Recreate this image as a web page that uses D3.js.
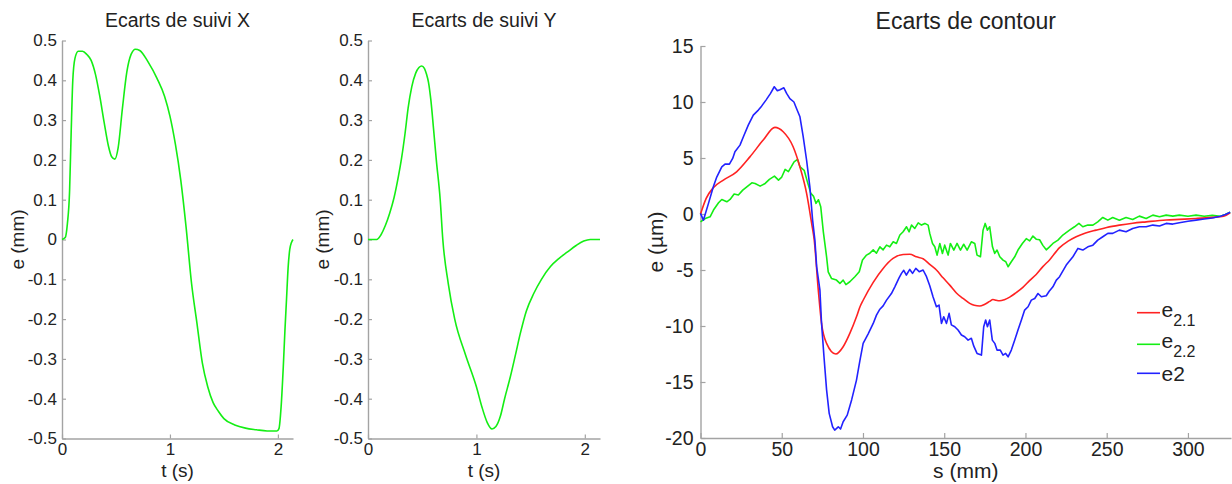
<!DOCTYPE html>
<html><head><meta charset="utf-8">
<script src="https://cdn.jsdelivr.net/npm/d3@7"></script>
<style>
html,body{margin:0;padding:0;background:#fff;}
svg{display:block;font-family:"Liberation Sans",Arial,sans-serif;}
</style></head>
<body><svg id="chart" width="1232" height="484"></svg>
<script>
// ---------- DATA ----------
const titles = ["Ecarts de suivi X", "Ecarts de suivi Y", "Ecarts de contour"];
const xLabels = ["t (s)", "t (s)", "s (mm)"];
const yLabels = ["e (mm)", "e (mm)", "e (µm)"];

const suiviYTicks = [0.5, 0.4, 0.3, 0.2, 0.1, 0, -0.1, -0.2, -0.3, -0.4, -0.5];
const suiviXTicks = [0, 1, 2];
const contourYTicks = [15, 10, 5, 0, -5, -10, -15, -20];
const contourXTicks = [0, 50, 100, 150, 200, 250, 300];

// Ecarts de suivi X  (t in s, e in mm)
const tX = [0, 0.03, 0.05, 0.07, 0.085, 0.1, 0.12, 0.15, 0.19, 0.23, 0.27, 0.31, 0.35, 0.39, 0.43, 0.46, 0.49, 0.52, 0.56, 0.6, 0.64, 0.68, 0.72, 0.8, 0.88, 0.95, 1.0, 1.05, 1.1, 1.15, 1.2, 1.25, 1.3, 1.35, 1.4, 1.45, 1.5, 1.6, 1.7, 1.8, 1.9, 1.99, 2.01, 2.03, 2.05, 2.065, 2.08, 2.095, 2.11, 2.125, 2.14];
const eX = [0, 0.005, 0.04, 0.12, 0.27, 0.40, 0.455, 0.473, 0.473, 0.465, 0.45, 0.415, 0.36, 0.295, 0.235, 0.208, 0.202, 0.23, 0.33, 0.42, 0.465, 0.478, 0.475, 0.445, 0.405, 0.36, 0.31, 0.24, 0.15, 0.03, -0.11, -0.21, -0.31, -0.37, -0.41, -0.432, -0.45, -0.466, -0.474, -0.478, -0.481, -0.481, -0.475, -0.42, -0.32, -0.23, -0.15, -0.07, -0.025, -0.008, 0];

// Ecarts de suivi Y
const tY = [0, 0.08, 0.12, 0.16, 0.2, 0.24, 0.28, 0.31, 0.342, 0.37, 0.404, 0.44, 0.47, 0.496, 0.52, 0.54, 0.558, 0.58, 0.604, 0.63, 0.666, 0.69, 0.74, 0.8, 0.9, 1.0, 1.05, 1.1, 1.144, 1.18, 1.22, 1.26, 1.313, 1.36, 1.405, 1.46, 1.53, 1.6, 1.683, 1.76, 1.837, 1.92, 1.99, 2.05, 2.14];
const eY = [0, 0, 0.012, 0.035, 0.066, 0.105, 0.158, 0.205, 0.267, 0.33, 0.384, 0.418, 0.432, 0.436, 0.43, 0.415, 0.395, 0.35, 0.28, 0.2, 0.1, 0, -0.11, -0.2, -0.29, -0.37, -0.42, -0.46, -0.476, -0.47, -0.445, -0.40, -0.345, -0.29, -0.236, -0.18, -0.135, -0.1, -0.068, -0.048, -0.032, -0.015, -0.004, 0, 0];

// Ecarts de contour (s in mm, e in µm)
const legendNames = [["e", "2.1"], ["e", "2.2"], ["e2", ""]];
const s21 = [0, 3.5, 7.9, 14.1, 22.2, 30.4, 38.6, 45.8, 50.9, 57, 61.2, 65.3, 68.4, 70, 72.5, 74.5, 77.6, 83.3, 87.8, 91.9, 96, 98.1, 100.1, 106.3, 112.4, 118.5, 124.7, 128.8, 132.9, 137, 141.1, 145.2, 149.3, 153.4, 157.5, 161.6, 165.7, 168.5, 171.8, 175, 178, 180, 182, 184.1, 187, 190.3, 194, 198.4, 202.5, 206.6, 210.7, 214.8, 221, 226, 231.2, 237, 243.5, 250, 257.8, 266, 274.3, 286.6, 294.7, 305, 315, 322, 326];
const e21 = [0, 1.4, 2.35, 3.03, 3.77, 5.1, 6.6, 7.73, 7.34, 6.0, 4.2, 1.84, -0.84, -2.33, -6.8, -9.77, -11.55, -12.5, -11.85, -10.66, -9.18, -8.3, -7.7, -6.1, -4.86, -3.97, -3.62, -3.6, -3.82, -4.0, -4.5, -5.0, -5.7, -6.35, -7.05, -7.54, -7.98, -8.15, -8.22, -8.05, -7.8, -7.63, -7.7, -7.75, -7.65, -7.42, -7.05, -6.55, -5.95, -5.4, -4.7, -4.1, -3.0, -2.45, -2.03, -1.7, -1.44, -1.2, -0.99, -0.82, -0.7, -0.54, -0.48, -0.4, -0.3, -0.2, 0.1];

const s22 = [0, 2.9, 5.9, 8, 11.1, 13.1, 16.2, 18.2, 20.7, 23.3, 26, 28.5, 31.6, 33.6, 36.7, 39.8, 42.4, 45.5, 48, 50, 52.1, 54.1, 55.8, 57.6, 59.7, 61.3, 63.8, 65.8, 67.9, 69.5, 71.1, 72.6, 74, 75.6, 77.6, 78.6, 80.6, 83.7, 85.8, 87.8, 89.5, 91.9, 95, 97.7, 99.7, 102.2, 104.2, 106.3, 108.3, 110.4, 112.4, 114.5, 116.5, 118.6, 120.6, 122.7, 124.7, 126.8, 128.4, 129.9, 131.9, 134, 136, 138.1, 140.1, 141.1, 142.8, 144.2, 145.6, 147.3, 148.9, 150.3, 152.4, 153.8, 155.9, 157.9, 160, 162, 164.1, 166.7, 168.8, 170.2, 172.3, 173.9, 175.2, 176.6, 178, 179.7, 181.1, 182.5, 184.2, 186.2, 187.9, 189.3, 191.3, 193.4, 195.4, 198.1, 200.5, 202.6, 204.6, 206.6, 208.7, 210.7, 212.8, 214.8, 216.9, 220, 223, 227.1, 230.2, 232.9, 235.3, 238.4, 241.5, 244.5, 247.6, 250.7, 253.7, 257.8, 261.9, 266, 270.1, 274.3, 278.4, 282.5, 286.6, 290.7, 294.7, 300, 305, 310, 315, 320, 323, 326];
const e22 = [-0.7, -0.4, -0.25, 0.35, 1.0, 1.3, 1.09, 1.3, 1.78, 1.7, 2.13, 2.43, 2.79, 2.73, 2.49, 2.73, 3.09, 3.38, 3.03, 3.3, 3.98, 3.79, 4.2, 4.66, 4.87, 4.2, 3.9, 2.87, 1.84, 1.6, 0.95, 1.27, 0.65, -1.6, -3.82, -5.16, -5.75, -5.9, -6.2, -5.9, -6.3, -6.05, -5.6, -5.16, -4.1, -3.67, -3.5, -3.2, -3.5, -2.93, -3.2, -2.78, -2.93, -2.48, -2.63, -1.88, -1.59, -1.14, -1.59, -0.99, -1.29, -0.79, -0.99, -0.84, -0.99, -1.73, -2.63, -2.93, -3.67, -2.63, -3.52, -2.78, -3.67, -2.63, -3.22, -2.63, -3.22, -2.7, -3.22, -2.48, -2.63, -3.67, -3.82, -1.44, -0.84, -1.44, -1.14, -2.93, -3.52, -3.22, -3.82, -4.12, -4.26, -4.71, -4.26, -3.82, -3.22, -2.63, -2.2, -2.4, -1.97, -2.25, -2.3, -2.8, -3.2, -2.93, -2.63, -2.33, -1.88, -1.44, -1.14, -0.84, -1.14, -0.99, -0.99, -0.7, -0.31, -0.55, -0.31, -0.55, -0.31, -0.49, -0.19, -0.4, -0.1, -0.25, -0.1, -0.19, -0.1, -0.2, -0.1, -0.2, -0.12, -0.2, -0.05, 0.15];

const s2 = [0, 1.8, 4.9, 7.9, 10, 13.1, 15.1, 17.8, 19.8, 21.2, 24.3, 26.4, 29.4, 32.5, 35.6, 37.6, 40.3, 43.1, 45.4, 47.3, 48.9, 51.3, 53, 55, 57.5, 59.1, 61.2, 63.2, 65.3, 67.3, 69, 70.4, 71.5, 73.5, 74.5, 76, 77.6, 79.2, 81.3, 82.6, 84.8, 86.2, 87.8, 90.3, 93, 96, 98.1, 100.1, 103.2, 106.3, 108.3, 110.4, 112.4, 114.5, 117.5, 119.6, 122.2, 123.7, 125.1, 126.7, 128.8, 130.5, 132.5, 134.6, 137, 139.1, 141.1, 143.1, 145.2, 146.8, 148.3, 149.7, 151.4, 153, 154.4, 156.5, 158.5, 160.6, 162.6, 164.7, 166.7, 168.2, 170.2, 172.9, 174.3, 175.5, 176.6, 178, 179.6, 181.1, 182.5, 184.5, 186.2, 187.8, 189.3, 191.3, 193.4, 195.4, 197.5, 199.5, 201.6, 203.6, 205.7, 207.7, 209.8, 212.8, 214.6, 216.9, 219, 221, 225.1, 229.2, 232.3, 235.3, 238.4, 241.5, 244.5, 247.6, 250.7, 253.7, 257.8, 261.9, 266, 270.1, 274.3, 278.4, 282.5, 286.6, 290.7, 294.7, 300, 305, 310, 315, 320, 323, 326];
const e2 = [0.05, -0.55, 0.95, 2.43, 3.3, 4.2, 4.45, 4.45, 4.96, 5.55, 6.15, 6.9, 7.94, 8.83, 9.28, 9.63, 10.17, 10.77, 11.36, 11.0, 11.1, 11.27, 10.77, 10.3, 10.0, 9.42, 8.68, 6.9, 4.8, 2.43, -0.55, -2.33, -4.71, -6.8, -9.77, -12.75, -15.7, -17.8, -19.0, -19.3, -19.0, -19.2, -18.55, -17.96, -16.6, -14.83, -13.1, -11.55, -10.7, -9.77, -9.03, -8.5, -8.2, -7.69, -7.1, -6.5, -5.7, -5.3, -5.03, -5.45, -4.95, -5.3, -4.86, -5.15, -5.0, -5.6, -6.4, -7.39, -8.28, -8.13, -9.77, -9.18, -9.77, -8.87, -9.9, -10.07, -10.36, -10.8, -10.96, -11.26, -11.1, -11.8, -12.45, -12.6, -10.07, -9.47, -10.07, -9.47, -11.26, -11.55, -12.15, -12.15, -12.6, -12.45, -12.75, -12.15, -11.26, -10.36, -9.47, -8.58, -8.28, -7.69, -7.54, -7.1, -7.39, -7.3, -6.9, -6.5, -5.9, -5.6, -4.56, -3.82, -3.07, -3.22, -2.93, -2.78, -2.33, -2.03, -1.73, -1.73, -1.44, -1.59, -1.29, -1.14, -1.14, -0.99, -1.07, -0.84, -0.9, -0.78, -0.65, -0.55, -0.45, -0.35, -0.2, -0.05, 0.15];

// ---------- DRAW ----------
const svg = d3.select("#chart");
const axisColor = "#a3a3a3";
const textColor = "#222";
const green = "#14ee14", red = "#ff2222", blue = "#2222ff";

function zip(xs, ys) { return xs.map((x, i) => [x, ys[i]]); }

function panel(cfg) {
  const x = d3.scaleLinear().domain(cfg.xDomain).range(cfg.xRange);
  const y = d3.scaleLinear().domain(cfg.yDomain).range(cfg.yRange);
  const g = svg.append("g");
  const fmt = d => String(d);

  const xAxis = g.append("g").attr("transform", `translate(0,${cfg.yRange[0]})`)
    .call(d3.axisBottom(x).tickValues(cfg.xTicks).tickFormat(fmt).tickSizeInner(-cfg.tick).tickSizeOuter(0).tickPadding(cfg.xPad));
  const yAxis = g.append("g").attr("transform", `translate(${cfg.xRange[0]},0)`)
    .call(d3.axisLeft(y).tickValues(cfg.yTicks).tickFormat(fmt).tickSizeInner(-cfg.tick).tickSizeOuter(0).tickPadding(cfg.yPad));
  [xAxis, yAxis].forEach(a => {
    a.select(".domain").attr("stroke", axisColor).attr("stroke-width", 1.4);
    a.selectAll(".tick line").attr("stroke", axisColor).attr("stroke-width", 1.2);
    a.selectAll(".tick text").attr("fill", textColor).style("font-size", cfg.tickFont + "px")
      .style("font-family", '"Liberation Sans",Arial,sans-serif');
  });

  cfg.series.forEach(s => {
    const line = d3.line().x(d => x(d[0])).y(d => y(d[1])).curve(s.curve);
    g.append("path").datum(zip(s.xs, s.ys)).attr("d", line)
      .attr("fill", "none").attr("stroke", s.color).attr("stroke-width", 1.6)
      .attr("stroke-linejoin", "round");
  });

  const cx = (cfg.xRange[0] + cfg.xRange[1]) / 2;
  const cy = (cfg.yRange[0] + cfg.yRange[1]) / 2;
  g.append("text").attr("x", cx).attr("y", cfg.titleY).attr("text-anchor", "middle")
    .attr("fill", textColor).style("font-size", cfg.titleFont + "px").text(cfg.title);
  g.append("text").attr("x", cx).attr("y", cfg.xLabelY).attr("text-anchor", "middle")
    .attr("fill", textColor).style("font-size", cfg.labelFont + "px").text(cfg.xLabel);
  g.append("text").attr("transform", `translate(${cfg.yLabelX},${cy}) rotate(-90)`)
    .attr("text-anchor", "middle").attr("dominant-baseline", "central")
    .attr("fill", textColor).style("font-size", cfg.labelFont + "px").text(cfg.yLabel);
  return { x, y };
}

panel({
  xDomain: [0, 2.14], xRange: [62, 293], yDomain: [-0.5, 0.5], yRange: [438.5, 40.5],
  xTicks: suiviXTicks, yTicks: suiviYTicks, tick: 4, xPad: 4, yPad: 5, tickFont: 17,
  titleFont: 19.5, labelFont: 19, titleY: 27, xLabelY: 477, yLabelX: 17,
  title: titles[0], xLabel: xLabels[0], yLabel: yLabels[0],
  series: [{ xs: tX, ys: eX, color: green, curve: d3.curveMonotoneX }]
});
panel({
  xDomain: [0, 2.14], xRange: [368, 600], yDomain: [-0.5, 0.5], yRange: [438.5, 40.5],
  xTicks: suiviXTicks, yTicks: suiviYTicks, tick: 4, xPad: 4, yPad: 5, tickFont: 17,
  titleFont: 19.5, labelFont: 19, titleY: 27, xLabelY: 477, yLabelX: 322,
  title: titles[1], xLabel: xLabels[1], yLabel: yLabels[1],
  series: [{ xs: tY, ys: eY, color: green, curve: d3.curveMonotoneX }]
});
panel({
  xDomain: [0, 326.5], xRange: [700.5, 1231], yDomain: [-20, 15], yRange: [438, 46],
  xTicks: contourXTicks, yTicks: contourYTicks, tick: 5, xPad: 4, yPad: 7, tickFont: 19.5,
  titleFont: 23, labelFont: 21, titleY: 29, xLabelY: 478, yLabelX: 655,
  title: titles[2], xLabel: xLabels[2], yLabel: yLabels[2],
  series: [
    { xs: s22, ys: e22, color: green, curve: d3.curveLinear },
    { xs: s21, ys: e21, color: red, curve: d3.curveMonotoneX },
    { xs: s2, ys: e2, color: blue, curve: d3.curveLinear }
  ]
});

// legend
const legColors = [red, green, blue];
const legY = [312.7, 344.3, 373.3];
const leg = svg.append("g");
legendNames.forEach((n, i) => {
  leg.append("line").attr("x1", 1137).attr("x2", 1160).attr("y1", legY[i]).attr("y2", legY[i])
    .attr("stroke", legColors[i]).attr("stroke-width", 1.6);
  const t = leg.append("text").attr("x", 1161.5).attr("y", legY[i] + (n[1] ? 4 : 8))
    .attr("fill", textColor).style("font-size", "21px");
  t.append("tspan").text(n[0]);
  if (n[1]) t.append("tspan").attr("dy", 9).style("font-size", "16px").text(n[1]);
});
</script>
</body></html>
